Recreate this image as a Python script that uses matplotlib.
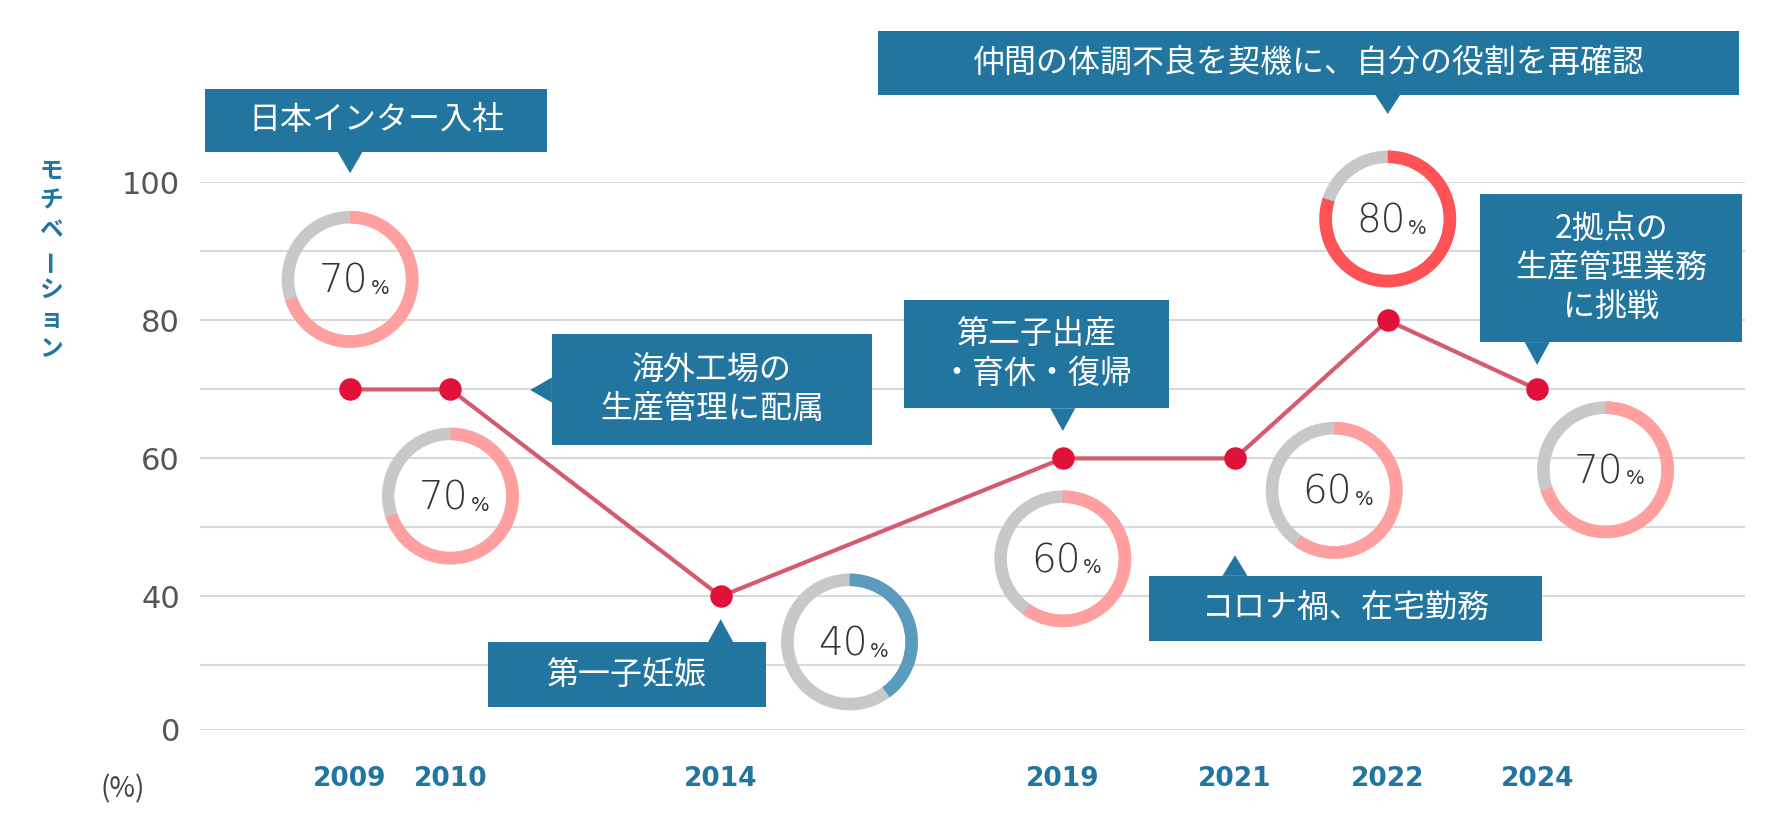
import matplotlib
matplotlib.use("Agg")
import matplotlib.pyplot as plt
from matplotlib.patches import Wedge, Polygon, Rectangle

plt.rcParams["font.family"] = ["Noto Sans CJK JP"]

years = ["2009", "2010", "2014", "2019", "2021", "2022", "2024"]
motivation = [70, 70, 40, 60, 60, 80, 70]
x_pos = [307, 395, 632, 932, 1083, 1217, 1348]  # horizontal placement (reference px)
donut_centers = [(307, 245), (395, 435), (745, 563), (932, 490), (1170, 430), (1217, 192), (1408, 412)]
donut_colors = ["#ff9f9f", "#ff9f9f", "#5b9bbd", "#ff9f9f", "#ff9f9f", "#ff5257", "#ff9f9f"]
tick_labels = ["0", "40", "60", "80", "100"]
y_title = "モチベーション"

callouts = [
    ("日本インター入社", (180, 78, 480, 133), "down", (307, 152)),
    ("仲間の体調不良を契機に、自分の役割を再確認", (770, 27, 1525, 83), "down", (1217, 100)),
    ("海外工場の\n生産管理に配属", (484, 293, 765, 390), "left", (465, 342)),
    ("第二子出産\n・育休・復帰", (793, 263, 1025, 358), "down", (932, 378)),
    ("2拠点の\n生産管理業務\nに挑戦", (1298, 170, 1528, 300), "down", (1348, 320)),
    ("第一子妊娠", (428, 563, 672, 620), "up", (632, 543)),
    ("コロナ禍、在宅勤務", (1008, 505, 1352, 562), "up", (1083, 487)),
]

W, H = 1568, 1568 * 840 / 1788
BLUE = "#22759f"
fig = plt.figure(figsize=(17.88, 8.4), dpi=100)
L, R, Y0, Y100 = 175, 1530, 640, 160
ax = fig.add_axes([L / W, 1 - Y0 / H, (R - L) / W, (Y0 - Y100) / H])
ax.set_xlim(L, R)
ybot = 20.66  # axis is broken below 40: bottom of axis shown as "0"
ax.set_ylim(ybot, 100)
for v in [ybot] + list(range(30, 101, 10)):
    ax.axhline(v, color="#d9d9d9", lw=1.5, zorder=0)
for s in ax.spines.values():
    s.set_visible(False)
ax.set_yticks([ybot, 40, 60, 80, 100])
ax.set_yticklabels(tick_labels, fontsize=22, color="#555555", fontfamily="DejaVu Sans")
ax.tick_params(length=0, pad=14)
ax.set_xticks(x_pos)
ax.set_xticklabels(years, fontsize=19, color=BLUE, fontweight="bold", fontfamily="DejaVu Sans")
ax.tick_params(axis="x", pad=26)
ax.plot(x_pos, motivation, color="#d45a6e", lw=3, zorder=3)
ax.scatter(x_pos, motivation, s=230, color="#e0123a", zorder=4)

ov = fig.add_axes([0, 0, 1, 1])
ov.set_xlim(0, W)
ov.set_ylim(H, 0)
ov.axis("off")

for (cx, cy), val, col in zip(donut_centers, motivation, donut_colors):
    r, w = 60, 11
    ov.add_patch(Wedge((cx, cy), r, 0, 360, width=w, color="#c8c8c8", lw=0))
    ov.add_patch(Wedge((cx, cy), r, -90, -90 + 360 * val / 100, width=w, color=col, lw=0))
    ov.text(cx - 6, cy + 2, str(val), fontsize=28, ha="center", va="center", color="#333333",
            fontfamily="DejaVu Sans", fontweight="light")
    ov.text(cx + 26, cy + 8, "%", fontsize=14, ha="center", va="center", color="#333333",
            fontfamily="DejaVu Sans")

for text, (x0, y0, x1, y1), d, (tx, ty) in callouts:
    ov.add_patch(Rectangle((x0, y0), x1 - x0, y1 - y0, color=BLUE, lw=0))
    if d == "down":
        pts = [(tx - 11, y1), (tx + 11, y1), (tx, ty)]
    elif d == "up":
        pts = [(tx - 11, y0), (tx + 11, y0), (tx, ty)]
    else:
        pts = [(x0, ty - 11), (x0, ty + 11), (tx, ty)]
    ov.add_patch(Polygon(pts, color=BLUE, lw=0))
    ov.text((x0 + x1) / 2, (y0 + y1) / 2, text, fontsize=23, color="white", ha="center",
            va="center", linespacing=1.3)

for i, ch in enumerate(y_title):
    ov.text(45, 150 + i * 26, ch, fontsize=17, color=BLUE, fontweight="bold",
            ha="center", va="center", rotation=90 if ch == "ー" else 0)
ov.text(108, 692, "(%)", fontsize=20, color="#444444", ha="center", va="center")

fig.savefig("out.png", dpi=100)
